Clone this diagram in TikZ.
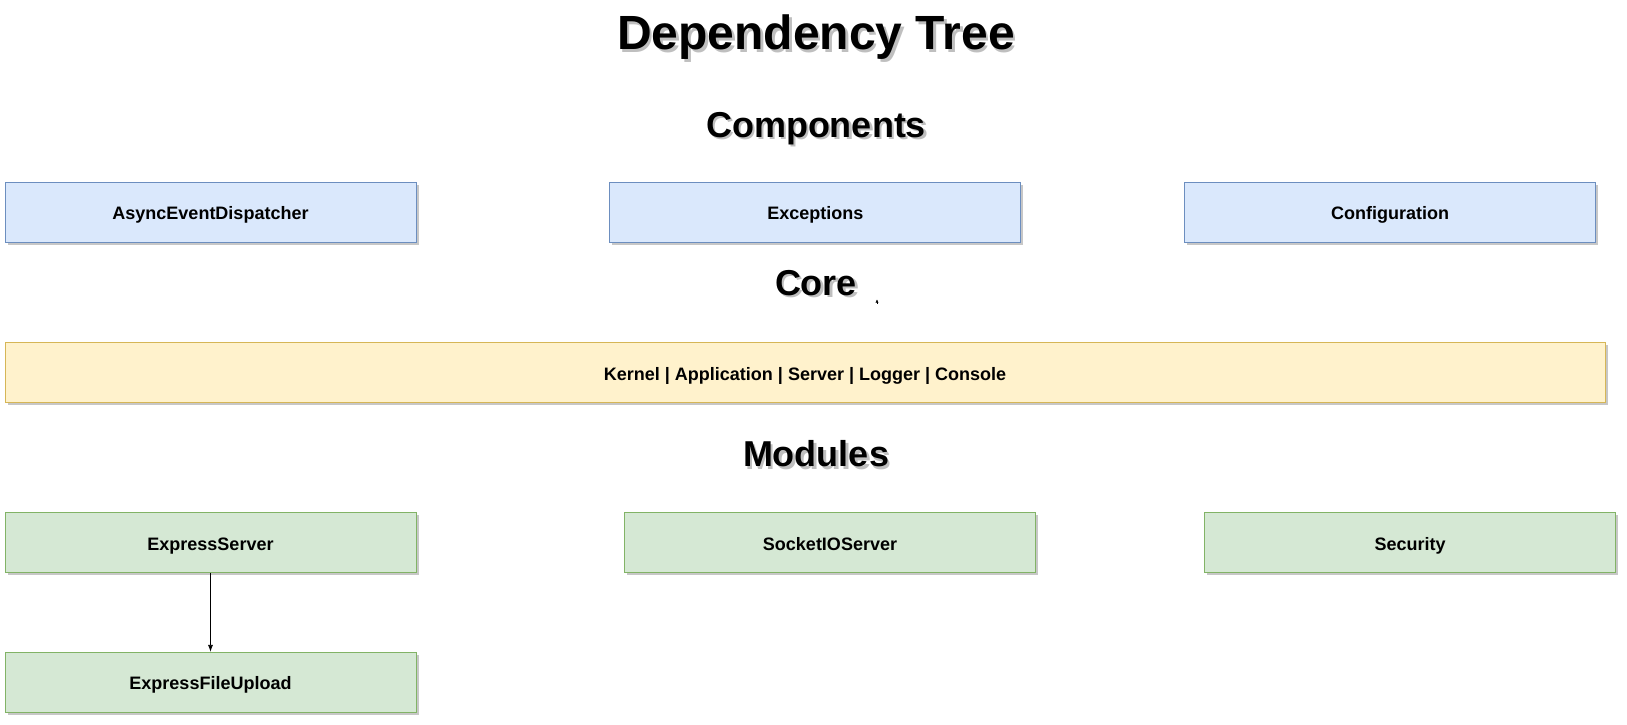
\documentclass[tikz,border=0pt]{standalone}
\usepackage{fontspec}
\setmainfont{Liberation Sans}
\usetikzlibrary{arrows.meta,shadows}

\definecolor{compfill}{HTML}{DAE8FC}
\definecolor{compline}{HTML}{6C8EBF}
\definecolor{corefill}{HTML}{FFF2CC}
\definecolor{coreline}{HTML}{D6B656}
\definecolor{modfill}{HTML}{D5E8D4}
\definecolor{modline}{HTML}{82B366}

\tikzset{
  box/.style={draw, line width=0.8pt, minimum width=411pt, minimum height=60pt,
    inner sep=0pt, text height=15pt, text depth=0pt,
    font=\fontsize{18}{22}\selectfont\bfseries,
    drop shadow={shadow xshift=2.5pt, shadow yshift=-2.5pt, fill=black, opacity=0.22}},
  compbox/.style={fill=compfill, draw=compline},
  corebox/.style={fill=corefill, draw=coreline},
  modbox/.style={fill=modfill, draw=modline},
  heading/.style={anchor=base, inner sep=0pt},
  headshadow/.style={anchor=base, inner sep=0pt, text=black!45, opacity=0.55},
  dep/.style={line width=0.8pt, -{Latex[length=7pt, width=5pt]}}
}

\begin{document}
\begin{tikzpicture}[x=1pt, y=-1pt]
    % Parameters
    \def\midx{816} % Centre of the headings
    \def\comprow{212.3} % Components row
    \def\modrow{542.5} % Modules row

    % Page
    \fill[white] (0,0) rectangle (1627,724);
    \useasboundingbox (0,0) rectangle (1627,724);

    % Headings with their soft shadow
    \foreach \name/\ypos/\size/\txt in {title/49.5/48/Dependency Tree, hcomp/137/36/Components, hcore/295/36/Core, hmod/466.7/36/Modules} {
        \node[headshadow, font=\fontsize{\size}{\size}\selectfont\bfseries] at ([xshift=2.5pt, yshift=-2.5pt]\midx,\ypos) {\txt};
        \node[heading, font=\fontsize{\size}{\size}\selectfont\bfseries] (\name) at (\midx,\ypos) {\txt};
    }

    % Components
    \foreach \name/\xpos/\txt in {ased/210.5/AsyncEventDispatcher, exc/815.3/Exceptions, conf/1390/Configuration} {
        \node[box, compbox] (\name) at (\xpos,\comprow) {\txt};
    }

    % Core
    \node[box, corebox, minimum width=1600pt] (core) at (805,372.5) {Kernel | Application | Server | Logger | Console};

    % Stray arrow tip next to the Core heading
    \coordinate (stubA) at (877,303.5);
    \coordinate (stubB) at (877,299.5);
    \draw[line width=0.4pt, -{Latex[length=3pt, width=3pt]}] (stubA) -- (stubB);

    % Modules
    \foreach \name/\xpos/\txt in {exps/210.5/ExpressServer, sio/830/SocketIOServer, sec/1410/Security} {
        \node[box, modbox] (\name) at (\xpos,\modrow) {\txt};
    }
    \node[box, modbox] (efu) at (210.5,682.3) {ExpressFileUpload};

    % Dependency
    \draw[dep] (exps) -- (efu);
\end{tikzpicture}
\end{document}
